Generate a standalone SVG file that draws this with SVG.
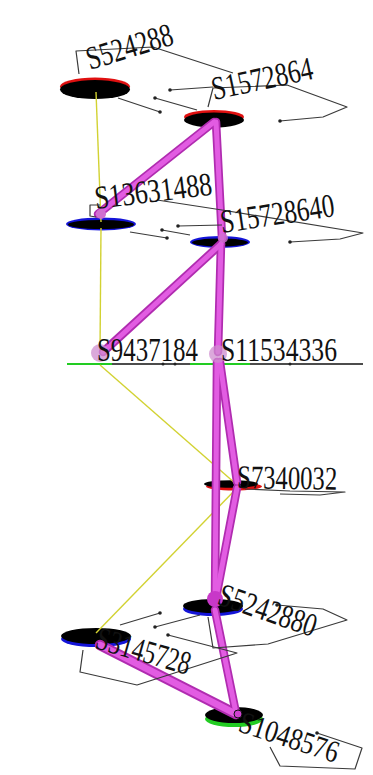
<svg xmlns="http://www.w3.org/2000/svg" width="373" height="775" viewBox="0 0 373 775">
  <style>
    .bg { fill: #ffffff; }
    .tube-out { stroke: #b02cb0; fill: none; stroke-linecap: round; }
    .tube-in { stroke: #e25ce2; fill: none; stroke-linecap: round; }
    .ylw { stroke: #d2d232; stroke-width: 1.4; fill: none; }
    .lead { stroke: #3a3a3a; stroke-width: 1.2; fill: none; stroke-linejoin: round; }
    .dot { fill: #222; }
    .lbl { font-family: "Liberation Serif", "Times New Roman", serif; font-size: 33px; fill: #111; }
    .disc { fill: #000; }
    .joint { fill: #cf8ccf; opacity: 0.75; }
  </style>
  <rect class="bg" x="0" y="0" width="373" height="775"/>

  <!-- discs of each node -->
  <g id="node-S524288">
    <ellipse cx="95" cy="86.5" rx="35" ry="9" fill="#e01010"/>
    <ellipse class="disc" cx="95" cy="89.5" rx="35" ry="9.5"/>
  </g>
  <g id="node-S1572864">
    <ellipse cx="214" cy="117" rx="30" ry="7" fill="#e01010"/>
    <ellipse class="disc" cx="214" cy="120" rx="30" ry="7.5"/>
  </g>
  <g id="node-S13631488">
    <ellipse cx="101" cy="224" rx="35" ry="6.5" fill="#1414d8"/>
    <ellipse class="disc" cx="101" cy="224.5" rx="33" ry="4.5"/>
  </g>
  <g id="node-S15728640">
    <ellipse cx="220" cy="242" rx="30" ry="6" fill="#1414d8"/>
    <ellipse class="disc" cx="220" cy="242.5" rx="28" ry="4"/>
  </g>
  <g id="node-S9437184">
    <line x1="67" y1="364" x2="363" y2="364" stroke="#111" stroke-width="1.6"/>
    <line x1="67" y1="364" x2="112" y2="364" stroke="#22cc22" stroke-width="2.2"/>
  </g>
  <g id="node-S11534336">
    <line x1="190" y1="364" x2="250" y2="364" stroke="#22cc22" stroke-width="2.2"/>
  </g>
  <g id="node-S7340032">
    <ellipse cx="234" cy="486.5" rx="28" ry="4" fill="#e01010"/>
    <ellipse class="disc" cx="231" cy="484" rx="27" ry="3.8"/>
  </g>
  <g id="node-S5242880">
    <ellipse cx="213" cy="609" rx="30" ry="7" fill="#1414d8"/>
    <ellipse class="disc" cx="213" cy="606" rx="30" ry="7"/>
  </g>
  <g id="node-S3145728">
    <ellipse cx="96" cy="639" rx="35" ry="8" fill="#1414d8"/>
    <ellipse class="disc" cx="96" cy="636" rx="35" ry="8"/>
  </g>
  <g id="node-S1048576">
    <ellipse cx="234" cy="719" rx="29" ry="8" fill="#22cc22"/>
    <ellipse class="disc" cx="234" cy="715" rx="29" ry="8"/>
  </g>

  <!-- edges: thin yellow links and magenta tubes -->
  <g id="connectors">
    <path class="ylw" d="M96 92 L101 222"/>
    <path class="ylw" d="M101 228 L100 352"/>
    <path class="ylw" d="M100 365 L236 484"/>
    <path class="ylw" d="M237 488 L96 633"/>

    <g class="tube-out" stroke-width="8.5">
      <path d="M214 122 L98 214"/>
      <path d="M216 122 L222 238"/>
      <path d="M221 244 L103 352"/>
      <path d="M221 244 L218 352"/>
      <path d="M217 362 L215 598"/>
      <path d="M220 362 L237 482"/>
      <path d="M237 488 L216 598"/>
      <path d="M215 610 L236 713"/>
    </g>
    <path class="tube-out" stroke-width="10.5" d="M100 645 L236 714"/>
    <g class="tube-in" stroke-width="5">
      <path d="M214 122 L98 214"/>
      <path d="M216 122 L222 238"/>
      <path d="M221 244 L103 352"/>
      <path d="M221 244 L218 352"/>
      <path d="M217 362 L215 598"/>
      <path d="M220 362 L237 482"/>
      <path d="M237 488 L216 598"/>
      <path d="M215 610 L236 713"/>
    </g>
    <path class="tube-in" stroke-width="6.5" d="M100 645 L236 714"/>

    <!-- joints -->
    <circle class="joint" cx="100" cy="353" r="9"/>
    <circle class="joint" cx="218" cy="354" r="9"/>
    <circle cx="101" cy="214" r="5" fill="#d070d0"/>
    <circle cx="223" cy="238" r="5" fill="#d070d0" opacity="0.8"/>
    <circle cx="215" cy="599" r="8" fill="#c838c8"/>
    <circle cx="238" cy="714" r="4" fill="#d040d0" stroke="#111" stroke-width="1"/>
  </g>

  <!-- node labels with their leader lines -->
  <g id="label-S524288">
    <path class="lead" d="M79 74 L76 51 L153 47 L233 73"/>
    <path class="lead" d="M170 90 L213 87"/>
    <path class="lead" d="M155 98 L197 110"/>
    <path class="lead" d="M118 98 L160 112"/>
    <circle class="dot" cx="170" cy="90" r="1.8"/>
    <circle class="dot" cx="155" cy="98" r="1.8"/>
    <circle class="dot" cx="160" cy="112" r="1.8"/>
    <text class="lbl" transform="translate(90 70) rotate(-17)" textLength="89" lengthAdjust="spacingAndGlyphs">S524288</text>
  </g>
  <g id="label-S1572864">
    <path class="lead" d="M208 107 L213 88 L287 85 L347 107 L323 117 L280 121"/>
    <circle class="dot" cx="280" cy="121" r="1.8"/>
    <text class="lbl" transform="translate(214 100) rotate(-12)" textLength="103" lengthAdjust="spacingAndGlyphs">S1572864</text>
  </g>
  <g id="label-S13631488">
    <path class="lead" d="M96 217 L90 216 L90 205 L100 205"/>
    <path class="lead" d="M157 200 L222 210 L363 233 L340 239 L290 242"/>
    <path class="lead" d="M178 226 L222 225"/>
    <path class="lead" d="M162 230 L190 235"/>
    <path class="lead" d="M130 232 L167 238"/>
    <circle class="dot" cx="290" cy="242" r="1.8"/>
    <circle class="dot" cx="178" cy="226" r="1.8"/>
    <circle class="dot" cx="162" cy="230" r="1.8"/>
    <circle class="dot" cx="167" cy="238" r="1.8"/>
    <text class="lbl" transform="translate(96 209) rotate(-7)" textLength="118" lengthAdjust="spacingAndGlyphs">S13631488</text>
  </g>
  <g id="label-S15728640">
    <text class="lbl" transform="translate(222 233) rotate(-8.5)" textLength="115" lengthAdjust="spacingAndGlyphs">S15728640</text>
  </g>
  <g id="label-S9437184">
    <circle class="dot" cx="163" cy="364" r="1.5"/>
    <circle class="dot" cx="175" cy="364" r="1.5"/>
    <circle class="dot" cx="290" cy="364" r="1.5"/>
    <text class="lbl" transform="translate(97 361)" textLength="101" lengthAdjust="spacingAndGlyphs">S9437184</text>
  </g>
  <g id="label-S11534336">
    <text class="lbl" transform="translate(221 361)" textLength="116" lengthAdjust="spacingAndGlyphs">S11534336</text>
  </g>
  <g id="label-S7340032">
    <path class="lead" d="M245 489 L290 491 L345 492 L320 495 L280 494"/>
    <text class="lbl" transform="translate(237 488) rotate(1)" textLength="100" lengthAdjust="spacingAndGlyphs">S7340032</text>
  </g>
  <g id="label-S5242880">
    <path class="lead" d="M208 617 L213 648 L268 644 L347 620 L323 609 L277 605"/>
    <path class="lead" d="M155 627 L200 615"/>
    <circle class="dot" cx="277" cy="605" r="1.8"/>
    <circle class="dot" cx="155" cy="627" r="1.8"/>
    <text class="lbl" transform="translate(216 604) rotate(19)" textLength="102" lengthAdjust="spacingAndGlyphs">S5242880</text>
  </g>
  <g id="label-S3145728">
    <path class="lead" d="M83 650 L80 672 L137 685 L237 653 L168 635"/>
    <path class="lead" d="M120 625 L160 613"/>
    <circle class="dot" cx="160" cy="613" r="1.8"/>
    <circle class="dot" cx="168" cy="635" r="1.8"/>
    <text class="lbl" transform="translate(94 648) rotate(16)" textLength="97" lengthAdjust="spacingAndGlyphs">S3145728</text>
  </g>
  <g id="label-S1048576">
    <path class="lead" d="M317 733 L362 748 L355 769 L280 766 L270 747"/>
    <circle class="dot" cx="317" cy="733" r="1.8"/>
    <text class="lbl" style="font-size:31px" transform="translate(237 731) rotate(18)" textLength="103" lengthAdjust="spacingAndGlyphs">S1048576</text>
  </g>
</svg>
